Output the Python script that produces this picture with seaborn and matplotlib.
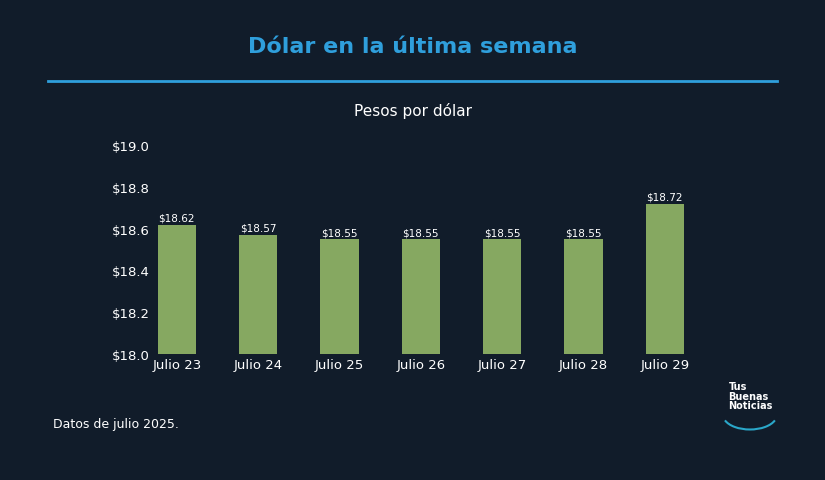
import matplotlib
matplotlib.use("Agg")
import matplotlib.pyplot as plt
import seaborn as sns
import pandas as pd
from matplotlib.lines import Line2D
from matplotlib.patches import Arc

categories = ["Julio 23", "Julio 24", "Julio 25", "Julio 26", "Julio 27", "Julio 28", "Julio 29"]
values = [18.62, 18.57, 18.55, 18.55, 18.55, 18.55, 18.72]
yticks = [18.0, 18.2, 18.4, 18.6, 18.8, 19.0]

BG = "#111c2a"
df = pd.DataFrame({"dia": categories, "valor": values})

fig = plt.figure(figsize=(8.25, 4.81), dpi=100, facecolor=BG)
ax = fig.add_axes([0.165, 0.262, 0.69, 0.434], facecolor=BG)
sns.barplot(data=df, x="dia", y="valor", color="#86a861", width=0.47, ax=ax, saturation=1)
ax.set_ylim(18.0, 19.0)
ax.set_xlim(-0.5, 6.5)
ax.set_yticks(yticks)
ax.set_yticklabels([f"${v:.1f}" for v in yticks])
ax.set_xlabel(""); ax.set_ylabel("")
for s in ax.spines.values():
    s.set_visible(False)
ax.tick_params(length=0, colors="white", labelsize=9.5)
ax.tick_params(axis="y", pad=-10)
ax.tick_params(axis="x", pad=3)
for i, v in enumerate(values):
    ax.text(i, v + 0.01, f"${v:.2f}", ha="center", va="bottom", color="white", fontsize=7.5)

fig.text(0.5, 0.902, "Dólar en la última semana", ha="center", va="center",
         color="#2f9fdc", fontsize=16, fontweight="bold")
fig.add_artist(Line2D([0.058, 0.942], [0.829, 0.829], color="#2f9fdc", lw=2))
fig.text(0.5, 0.77, "Pesos por dólar", ha="center", va="center", color="white", fontsize=11)
fig.text(0.064, 0.117, "Datos de julio 2025.", ha="left", va="center", color="white", fontsize=9)
fig.text(0.883, 0.175, "Tus\nBuenas\nNoticias", ha="left", va="center", color="white",
         fontsize=7, fontweight="bold", linespacing=0.95)
fig.add_artist(Arc((0.909, 0.135), 0.065, 0.06, theta1=200, theta2=340,
                   color="#2aa7c9", lw=1.5, transform=fig.transFigure))
fig.savefig("out.png", dpi=100, facecolor=BG)
